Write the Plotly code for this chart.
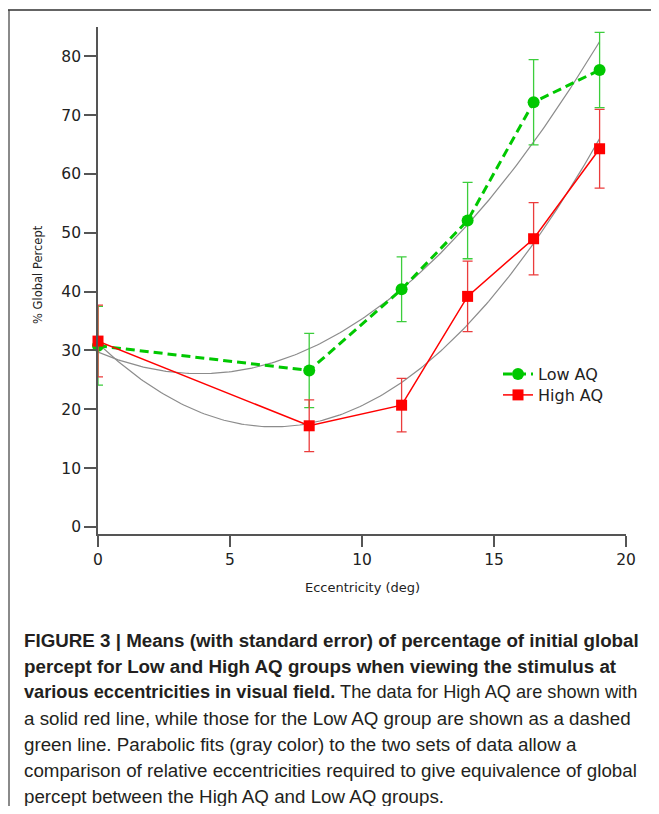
import numpy as np
import plotly.graph_objects as go

# ---- data ----
ecc = [0, 8, 11.5, 14, 16.5, 19]
low_aq = [30.8, 26.6, 40.4, 52.1, 72.2, 77.7]
low_aq_se = [6.7, 6.3, 5.5, 6.5, 7.25, 6.4]
high_aq = [31.6, 17.2, 20.7, 39.2, 49.0, 64.3]
high_aq_se = [6.1, 4.4, 4.55, 6.0, 6.15, 6.7]
x_ticks = [0, 5, 10, 15, 20]
y_ticks = [0, 10, 20, 30, 40, 50, 60, 70, 80]

caption_lines = [
    "<b>FIGURE 3 | Means (with standard error) of percentage of initial global</b>",
    "<b>percept for Low and High AQ groups when viewing the stimulus at</b>",
    "<b>various eccentricities in visual field.</b> The data for High AQ are shown with",
    "a solid red line, while those for the Low AQ group are shown as a dashed",
    "green line. Parabolic fits (gray color) to the two sets of data allow a",
    "comparison of relative eccentricities required to give equivalence of global",
    "percept between the High AQ and Low AQ groups.",
]

# ---- layout geometry: page pixels; the page body has an 8px margin ----
OFF = 8
PAGE_W, PAGE_H = 659, 814
W, H = PAGE_W - OFF, PAGE_H - 2 * OFF
AX_L, AX_R, AX_T, AX_B = 98, 626, 27, 534  # plot area in page pixels
L, T = AX_L - OFF, AX_T - OFF
PW, PH = AX_R - AX_L, AX_B - AX_T
R, B = W - L - PW, H - T - PH


def px(xp):
    return (xp - AX_L) / PW


def py(yp):
    return (AX_B - yp) / PH


GREEN = "rgb(0,200,0)"
GREEN_ERR = "rgb(60,205,60)"
RED = "rgb(255,0,0)"
RED_ERR = "rgb(235,60,60)"
GRAY = "rgb(140,140,140)"
AXC = "rgb(85,85,85)"
FONT = "DejaVu Sans"

fig = go.Figure()

# parabolic fits
xf = np.linspace(min(ecc), max(ecc), 200)
for ys in (low_aq, high_aq):
    c = np.polyfit(ecc, ys, 2)
    fig.add_trace(go.Scatter(x=xf, y=np.polyval(c, xf), mode="lines",
                             line=dict(color=GRAY, width=1.2),
                             showlegend=False, hoverinfo="skip"))

fig.add_trace(go.Scatter(
    x=ecc, y=low_aq, name="Low AQ", mode="lines+markers", legend="legend",
    line=dict(color=GREEN, width=3, dash="9px,5px"),
    marker=dict(symbol="circle", size=12, color=GREEN),
    error_y=dict(type="data", array=low_aq_se, color=GREEN_ERR, thickness=1.3, width=5),
    cliponaxis=False,
))
fig.add_trace(go.Scatter(
    x=ecc, y=high_aq, name="High AQ", mode="lines+markers", legend="legend2",
    line=dict(color=RED, width=1.5),
    marker=dict(symbol="square", size=11, color=RED),
    error_y=dict(type="data", array=high_aq_se, color=RED_ERR, thickness=1.3, width=5),
    cliponaxis=False,
))

fig.update_xaxes(range=[0, 20], tickvals=x_ticks, showline=True, linecolor=AXC, linewidth=1.6,
                 ticks="outside", ticklen=11, tickwidth=1.5, tickcolor=AXC,
                 showgrid=False, zeroline=False,
                 tickfont=dict(family=FONT, size=15.5, color="#222"))
fig.update_yaxes(range=[-1.2, 85], tickvals=y_ticks, showline=True, linecolor=AXC, linewidth=1.6,
                 ticks="outside", ticklen=12, tickwidth=1.5, tickcolor=AXC,
                 showgrid=False, zeroline=False,
                 tickfont=dict(family=FONT, size=15.5, color="#222"))

ann = [
    dict(text="Eccentricity (deg)", x=px(362), y=py(587), xanchor="center", yanchor="middle",
         font=dict(family=FONT, size=13, color="#222")),
    dict(text="% Global Percept", x=px(38), y=py(275), xanchor="center", yanchor="middle",
         textangle=-90, font=dict(family=FONT, size=11.5, color="#222")),
]
line_y = [640, 666, 692, 718, 744, 770, 796]
line_size = [18.75, 18.75, 18.2, 18.75, 18.75, 18.75, 18.75]
for t, yy, fs in zip(caption_lines, line_y, line_size):
    ann.append(dict(text=t, x=px(22), y=py(yy), xanchor="left", yanchor="middle",
                    align="left",
                    font=dict(family="Liberation Sans", size=fs, color="#231f20")))
for a in ann:
    a.update(xref="paper", yref="paper", showarrow=False)

shapes = [
    dict(type="line", xref="paper", yref="paper", x0=px(8), x1=px(PAGE_W + 5), y0=py(10), y1=py(10),
         line=dict(color="rgb(100,100,100)", width=2)),
    dict(type="line", xref="paper", yref="paper", x0=px(9), x1=px(9), y0=py(10), y1=py(PAGE_H + 5),
         line=dict(color="rgb(60,60,60)", width=1.2)),
]

leg = dict(xanchor="left", yanchor="top", bgcolor="rgba(0,0,0,0)",
           font=dict(family=FONT, size=16, color="#222"), itemwidth=30)
fig.update_layout(
    width=W, height=H, margin=dict(l=L, r=R, t=T, b=B),
    paper_bgcolor="white", plot_bgcolor="white",
    annotations=ann, shapes=shapes,
    legend=dict(leg, x=px(498), y=py(357)),
    legend2=dict(leg, x=px(498), y=py(378)),
)

fig.write_html("out.html")
